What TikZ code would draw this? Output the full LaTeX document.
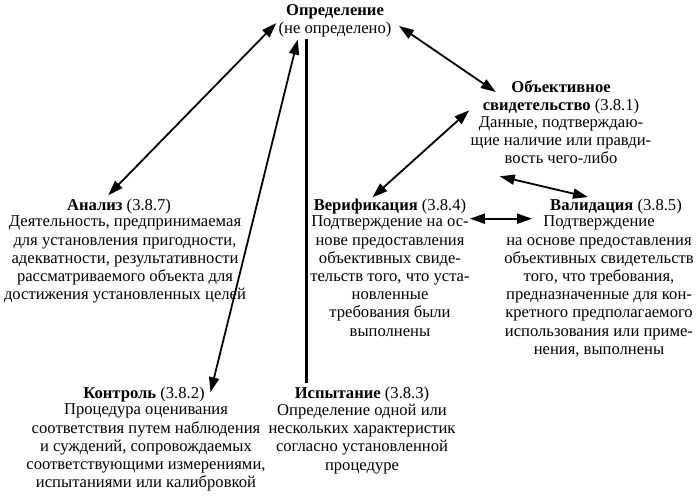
\documentclass[tikz,border=0pt]{standalone}
\usepackage{fontspec}
\setmainfont{Liberation Serif}
\usetikzlibrary{positioning,arrows.meta}

\begin{document}
\begin{tikzpicture}
  [x=1pt, y=-1pt,
   term/.style={inner sep=0pt, anchor=north, align=center,
     font=\fontsize{16.6}{18.2}\selectfont,
     execute at begin node=\strut, execute at end node=\strut},
   link/.style={line width=1.8pt,
     {Triangle[length=15pt,width=10pt]}-{Triangle[length=15pt,width=10pt]}}]
  \useasboundingbox (0,0) rectangle (700,497);

  \node [term] (defT) at (335,2.3) {\textbf{Определение}};
  \node [term] (defB) [below=0pt of defT] {(не определено)};

  \node [term] (evidT) at (561,80.3) {\textbf{Объективное}\\\textbf{свидетельство} (3.8.1)};
  \node [term] (evidB) [below=0pt of evidT] {Данные, подтверждаю-\\щие наличие или правди-\\вость чего-либо};

  \node [term] (analT) at (119,197.3) {\textbf{Анализ} (3.8.7)};
  \node [term] (analB) [below=0pt of analT, xshift=6pt] {Деятельность, предпринимаемая\\для установления пригодности,\\адекватности, результативности\\рассматриваемого объекта для\\достижения установленных целей};

  \node [term] (verifT) at (390,197.3) {\textbf{Верификация} (3.8.4)};
  \node [term] (verifB) [below=0pt of verifT] {Подтверждение на ос-\\нове предоставления\\объективных свиде-\\тельств того, что уста-\\новленные\\требования были\\выполнены};

  \node [term] (validT) at (616,197.3) {\textbf{Валидация} (3.8.5)};
  \node [term] (validB) [below=0pt of validT, xshift=-17pt] {Подтверждение\\на основе предоставления\\объективных свидетельств\\того, что требования,\\предназначенные для кон-\\кретного предполагаемого\\использования или приме-\\нения, выполнены};

  \node [term] (contrT) at (144,385.3) {\textbf{Контроль} (3.8.2)};
  \node [term] (contrB) [below=0pt of contrT, xshift=2pt] {Процедура оценивания\\соответствия путем наблюдения\\и суждений, сопровождаемых\\соответствующими измерениями,\\испытаниями или калибровкой};

  \node [term] (testT) at (362,385.3) {\textbf{Испытание} (3.8.3)};
  \node [term] (testB) [below=0pt of testT] {Определение одной или\\нескольких характеристик\\согласно установленной\\процедуре};

  \draw [link, shorten <=3pt, shorten >=3pt] (defB.north west) -- (analT.144);
  \draw [link, shorten >=12pt] (defB.194) -- (contrB.36);
  \draw [line width=3pt, shorten >=2pt] (defB.198) -- (defB.198 |- testT.north);
  \draw [link, shorten <=9pt, shorten >=-16pt] (defB.north east) -- (evidT.169);
  \draw [link, shorten >=18pt] (verifT.152) -- (evidT.west);
  \draw [link, shorten <=30pt, shorten >=1pt] (evidB.south west) -- (validT.161);
  \draw [link, shorten >=-28pt] (verifB.37) -- (verifB.37 -| validB.west);
\end{tikzpicture}
\end{document}
